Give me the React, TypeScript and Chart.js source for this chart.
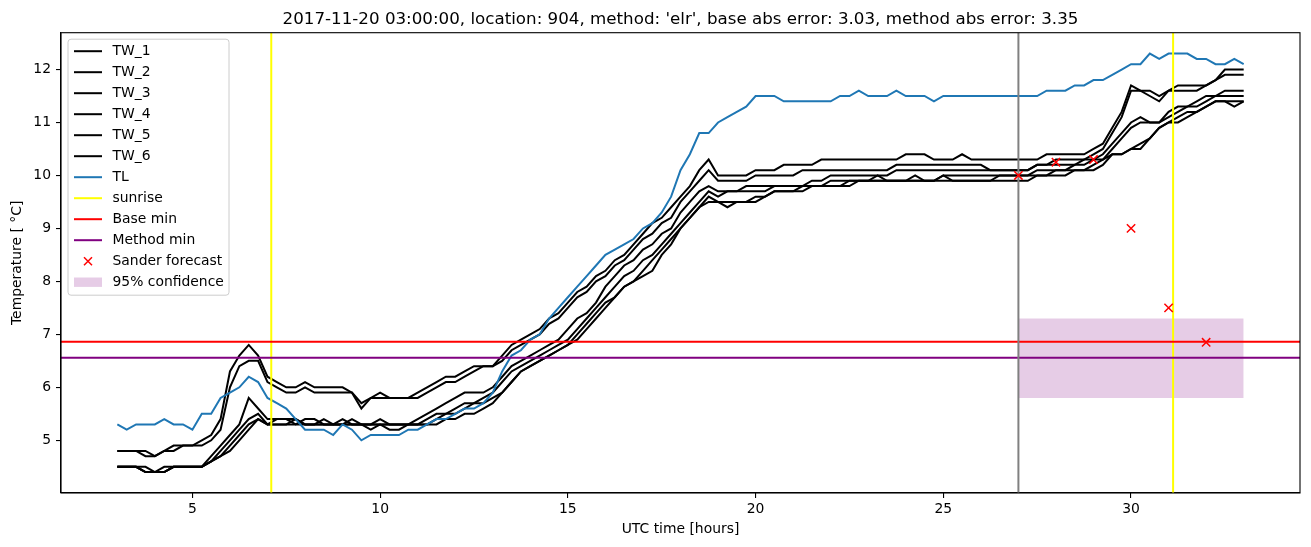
import { useEffect, useRef } from 'react';
import { Chart, registerables } from 'chart.js';

Chart.register(...registerables);

// ---- data (hours are a 15-minute grid from 03:00 to 33:00) ----
const HOURS = Array.from({ length: 121 }, (_, i) => 3 + i * 0.25);

const TW_1 = [
  4.8, 4.8, 4.8, 4.8,
  4.7, 4.8, 4.9, 4.9,
  4.9, 5.0, 5.1, 5.4,
  6.3, 6.6, 6.8, 6.6,
  6.2, 6.1, 6.0, 6.0,
  6.1, 6.0, 6.0, 6.0,
  6.0, 5.9, 5.6, 5.8,
  5.9, 5.8, 5.8, 5.8,
  5.9, 6.0, 6.1, 6.2,
  6.2, 6.3, 6.4, 6.4,
  6.4, 6.6, 6.8, 6.9,
  7.0, 7.1, 7.3, 7.4,
  7.6, 7.8, 7.9, 8.1,
  8.2, 8.4, 8.5, 8.7,
  8.9, 9.1, 9.2, 9.4,
  9.6, 9.8, 10.1, 10.3,
  10.0, 10.0, 10.0, 10.0,
  10.1, 10.1, 10.1, 10.2,
  10.2, 10.2, 10.2, 10.3,
  10.3, 10.3, 10.3, 10.3,
  10.3, 10.3, 10.3, 10.3,
  10.4, 10.4, 10.4, 10.3,
  10.3, 10.3, 10.4, 10.3,
  10.3, 10.3, 10.3, 10.3,
  10.3, 10.3, 10.3, 10.4,
  10.4, 10.4, 10.4, 10.4,
  10.5, 10.6, 10.9, 11.2,
  11.7, 11.6, 11.6, 11.5,
  11.6, 11.7, 11.7, 11.7,
  11.7, 11.8, 12.0, 12.0,
  12.0,
];

const TW_2 = [
  4.8, 4.8, 4.8, 4.7,
  4.7, 4.8, 4.8, 4.9,
  4.9, 4.9, 5.0, 5.2,
  6.0, 6.4, 6.5, 6.5,
  6.1, 6.0, 5.9, 5.9,
  6.0, 5.9, 5.9, 5.9,
  5.9, 5.9, 5.7, 5.8,
  5.8, 5.8, 5.8, 5.8,
  5.8, 5.9, 6.0, 6.1,
  6.1, 6.2, 6.3, 6.4,
  6.4, 6.5, 6.7, 6.8,
  6.9, 7.0, 7.2, 7.3,
  7.5, 7.7, 7.8, 8.0,
  8.1, 8.3, 8.4, 8.6,
  8.8, 8.9, 9.1, 9.2,
  9.5, 9.7, 9.9, 10.1,
  9.9, 9.9, 9.9, 9.9,
  10.0, 10.0, 10.0, 10.0,
  10.0, 10.1, 10.1, 10.1,
  10.1, 10.1, 10.1, 10.1,
  10.1, 10.1, 10.1, 10.2,
  10.2, 10.2, 10.2, 10.2,
  10.2, 10.2, 10.2, 10.2,
  10.2, 10.1, 10.1, 10.1,
  10.1, 10.1, 10.2, 10.2,
  10.3, 10.3, 10.3, 10.3,
  10.4, 10.5, 10.8, 11.1,
  11.6, 11.6, 11.5, 11.4,
  11.6, 11.6, 11.6, 11.6,
  11.7, 11.8, 11.9, 11.9,
  11.9,
];

const TW_3 = [
  4.5, 4.5, 4.5, 4.4,
  4.4, 4.5, 4.5, 4.5,
  4.5, 4.5, 4.7, 4.9,
  5.1, 5.3, 5.8, 5.6,
  5.4, 5.4, 5.4, 5.4,
  5.3, 5.3, 5.4, 5.3,
  5.4, 5.3, 5.3, 5.3,
  5.4, 5.3, 5.3, 5.3,
  5.4, 5.5, 5.6, 5.7,
  5.8, 5.9, 5.9, 5.9,
  6.0, 6.2, 6.4, 6.5,
  6.6, 6.7, 6.8, 6.9,
  7.1, 7.3, 7.4, 7.6,
  7.9, 8.1, 8.3, 8.4,
  8.6, 8.7, 8.9, 9.0,
  9.3, 9.5, 9.7, 9.8,
  9.7, 9.7, 9.7, 9.8,
  9.8, 9.8, 9.8, 9.8,
  9.8, 9.8, 9.9, 9.9,
  10.0, 10.0, 10.0, 10.0,
  10.0, 10.0, 10.0, 10.1,
  10.1, 10.1, 10.1, 10.1,
  10.1, 10.1, 10.1, 10.1,
  10.1, 10.1, 10.1, 10.1,
  10.1, 10.1, 10.2, 10.2,
  10.2, 10.2, 10.2, 10.3,
  10.3, 10.4, 10.6, 10.8,
  11.0, 11.1, 11.0, 11.0,
  11.2, 11.3, 11.3, 11.4,
  11.5, 11.5, 11.6, 11.6,
  11.6,
];

const TW_4 = [
  4.5, 4.5, 4.5, 4.4,
  4.4, 4.4, 4.5, 4.5,
  4.5, 4.5, 4.6, 4.8,
  5.0, 5.2, 5.4, 5.5,
  5.3, 5.4, 5.4, 5.3,
  5.4, 5.4, 5.3, 5.3,
  5.3, 5.4, 5.3, 5.2,
  5.3, 5.3, 5.3, 5.3,
  5.3, 5.4, 5.5, 5.5,
  5.6, 5.7, 5.7, 5.8,
  5.9, 6.1, 6.3, 6.4,
  6.5, 6.6, 6.7, 6.8,
  6.9, 7.1, 7.3, 7.5,
  7.7, 7.9, 8.1, 8.2,
  8.4, 8.5, 8.7, 8.9,
  9.1, 9.3, 9.5, 9.7,
  9.6, 9.7, 9.7, 9.7,
  9.7, 9.7, 9.8, 9.8,
  9.8, 9.8, 9.8, 9.8,
  9.9, 9.9, 9.9, 9.9,
  9.9, 9.9, 9.9, 9.9,
  9.9, 10.0, 9.9, 9.9,
  10.0, 10.0, 10.0, 10.0,
  10.0, 10.0, 10.0, 10.0,
  10.0, 10.0, 10.1, 10.1,
  10.1, 10.1, 10.2, 10.2,
  10.3, 10.3, 10.5, 10.7,
  10.9, 11.0, 11.0, 11.0,
  11.1, 11.2, 11.3, 11.3,
  11.4, 11.5, 11.5, 11.5,
  11.5,
];

const TW_5 = [
  4.5, 4.5, 4.5, 4.5,
  4.4, 4.4, 4.5, 4.5,
  4.5, 4.5, 4.6, 4.7,
  4.9, 5.1, 5.3, 5.4,
  5.3, 5.3, 5.3, 5.4,
  5.3, 5.3, 5.3, 5.3,
  5.3, 5.3, 5.3, 5.3,
  5.3, 5.2, 5.2, 5.3,
  5.3, 5.3, 5.4, 5.5,
  5.5, 5.6, 5.7, 5.7,
  5.8, 5.9, 6.1, 6.3,
  6.4, 6.5, 6.6, 6.7,
  6.8, 7.0, 7.2, 7.4,
  7.6, 7.7, 7.9, 8.0,
  8.2, 8.4, 8.6, 8.8,
  9.0, 9.2, 9.4, 9.6,
  9.5, 9.4, 9.5, 9.5,
  9.6, 9.6, 9.7, 9.7,
  9.7, 9.7, 9.8, 9.8,
  9.8, 9.8, 9.9, 9.9,
  9.9, 10.0, 9.9, 9.9,
  9.9, 9.9, 9.9, 9.9,
  10.0, 9.9, 9.9, 9.9,
  9.9, 9.9, 10.0, 10.0,
  10.0, 10.0, 10.0, 10.0,
  10.1, 10.1, 10.1, 10.1,
  10.2, 10.3, 10.4, 10.4,
  10.5, 10.6, 10.7, 10.9,
  11.0, 11.1, 11.2, 11.2,
  11.3, 11.4, 11.4, 11.3,
  11.4,
];

const TW_6 = [
  4.5, 4.5, 4.5, 4.4,
  4.4, 4.4, 4.5, 4.5,
  4.5, 4.5, 4.6, 4.7,
  4.8, 5.0, 5.2, 5.4,
  5.3, 5.3, 5.3, 5.3,
  5.3, 5.3, 5.3, 5.3,
  5.3, 5.3, 5.3, 5.3,
  5.3, 5.3, 5.3, 5.3,
  5.3, 5.3, 5.3, 5.4,
  5.4, 5.5, 5.5, 5.6,
  5.7, 5.9, 6.1, 6.3,
  6.4, 6.5, 6.6, 6.7,
  6.8, 6.9, 7.1, 7.3,
  7.5, 7.7, 7.9, 8.0,
  8.1, 8.2, 8.5, 8.7,
  9.0, 9.2, 9.4, 9.5,
  9.5, 9.5, 9.5, 9.5,
  9.5, 9.6, 9.7, 9.7,
  9.7, 9.8, 9.8, 9.8,
  9.8, 9.8, 9.8, 9.9,
  9.9, 9.9, 9.9, 9.9,
  9.9, 9.9, 9.9, 9.9,
  9.9, 9.9, 9.9, 9.9,
  9.9, 9.9, 9.9, 9.9,
  9.9, 9.9, 10.0, 10.0,
  10.0, 10.0, 10.1, 10.1,
  10.1, 10.2, 10.4, 10.4,
  10.5, 10.5, 10.7, 10.9,
  11.0, 11.0, 11.1, 11.2,
  11.3, 11.4, 11.4, 11.4,
  11.4,
];

const TL = [
  5.3, 5.2, 5.3, 5.3,
  5.3, 5.4, 5.3, 5.3,
  5.2, 5.5, 5.5, 5.8,
  5.9, 6.0, 6.2, 6.1,
  5.8, 5.7, 5.6, 5.4,
  5.2, 5.2, 5.2, 5.1,
  5.3, 5.2, 5.0, 5.1,
  5.1, 5.1, 5.1, 5.2,
  5.2, 5.3, 5.4, 5.4,
  5.5, 5.6, 5.6, 5.7,
  5.9, 6.3, 6.6, 6.7,
  6.9, 7.0, 7.3, 7.5,
  7.7, 7.9, 8.1, 8.3,
  8.5, 8.6, 8.7, 8.8,
  9.0, 9.1, 9.3, 9.6,
  10.1, 10.4, 10.8, 10.8,
  11.0, 11.1, 11.2, 11.3,
  11.5, 11.5, 11.5, 11.4,
  11.4, 11.4, 11.4, 11.4,
  11.4, 11.5, 11.5, 11.6,
  11.5, 11.5, 11.5, 11.6,
  11.5, 11.5, 11.5, 11.4,
  11.5, 11.5, 11.5, 11.5,
  11.5, 11.5, 11.5, 11.5,
  11.5, 11.5, 11.5, 11.6,
  11.6, 11.6, 11.7, 11.7,
  11.8, 11.8, 11.9, 12.0,
  12.1, 12.1, 12.3, 12.2,
  12.3, 12.3, 12.3, 12.2,
  12.2, 12.1, 12.1, 12.2,
  12.1,
];

const TW_LABELS = ['TW_1', 'TW_2', 'TW_3', 'TW_4', 'TW_5', 'TW_6'];
const TW_SERIES = [TW_1, TW_2, TW_3, TW_4, TW_5, TW_6];

const SUNRISE_HOURS = [7.1, 31.12];
const BASE_MIN = 6.86;
const METHOD_MIN = 6.56;
const FORECAST_START = 27;

const SANDER_HOURS = [27, 28, 29, 30, 31, 32];
const SANDER_VALUES = [10.0, 10.25, 10.3, 9.0, 7.5, 6.85];

const CONF_HOURS = [27, 33];
const CONF_LOW = 5.8;
const CONF_HIGH = 7.3;

const X_TICKS = [5, 10, 15, 20, 25, 30];
const Y_TICKS = [5, 6, 7, 8, 9, 10, 11, 12];
const X_MIN = 1.5;
const X_MAX = 34.5;
const Y_MIN = 4.005;
const Y_MAX = 12.695;

const TITLE =
  "2017-11-20 03:00:00, location: 904, method: 'elr', base abs error: 3.03, method abs error: 3.35";

const FONT = "'DejaVu Sans', sans-serif";

// ---- plugins ----
const titlePlugin = {
  id: 'mplTitle',
  afterDraw(chart: any) {
    const { ctx, chartArea } = chart;
    ctx.save();
    ctx.fillStyle = '#000';
    ctx.font = `16.7px ${FONT}`;
    ctx.textAlign = 'center';
    ctx.textBaseline = 'alphabetic';
    ctx.fillText(TITLE, (chartArea.left + chartArea.right) / 2, chartArea.top - 8.5);
    ctx.restore();
  },
};

const framePlugin = {
  id: 'mplFrame',
  afterDatasetsDraw(chart: any) {
    const { ctx, chartArea } = chart;
    ctx.save();
    ctx.strokeStyle = '#000';
    ctx.lineWidth = 1.1;
    ctx.strokeRect(chartArea.left, chartArea.top, chartArea.right - chartArea.left, chartArea.bottom - chartArea.top);
    ctx.restore();
  },
};

const legendPlugin = {
  id: 'mplLegend',
  afterDraw(chart: any) {
    const { ctx, chartArea } = chart;
    const entries = chart.data.datasets
      .filter((d: any) => d.legendRank !== undefined)
      .sort((a: any, b: any) => a.legendRank - b.legendRank);
    const x0 = chartArea.left + 7;
    const y0 = chartArea.top + 6.5;
    const rowH = 21;
    const w = 161;
    const h = 12 + (entries.length - 1) * rowH + 13;
    ctx.save();
    ctx.beginPath();
    const r = 3;
    ctx.moveTo(x0 + r, y0);
    ctx.lineTo(x0 + w - r, y0);
    ctx.quadraticCurveTo(x0 + w, y0, x0 + w, y0 + r);
    ctx.lineTo(x0 + w, y0 + h - r);
    ctx.quadraticCurveTo(x0 + w, y0 + h, x0 + w - r, y0 + h);
    ctx.lineTo(x0 + r, y0 + h);
    ctx.quadraticCurveTo(x0, y0 + h, x0, y0 + h - r);
    ctx.lineTo(x0, y0 + r);
    ctx.quadraticCurveTo(x0, y0, x0 + r, y0);
    ctx.closePath();
    ctx.fillStyle = 'rgba(255,255,255,0.8)';
    ctx.fill();
    ctx.strokeStyle = '#cccccc';
    ctx.lineWidth = 1;
    ctx.stroke();

    ctx.font = `13.9px ${FONT}`;
    ctx.textBaseline = 'middle';
    ctx.textAlign = 'left';
    entries.forEach((d: any, i: number) => {
      const cy = y0 + 12 + i * rowH;
      const hx0 = x0 + 6;
      const hx1 = x0 + 34;
      if (d.legendKind === 'line') {
        ctx.strokeStyle = d.borderColor;
        ctx.lineWidth = 2;
        ctx.beginPath();
        ctx.moveTo(hx0, cy);
        ctx.lineTo(hx1, cy);
        ctx.stroke();
      } else if (d.legendKind === 'marker') {
        const cx = (hx0 + hx1) / 2;
        const s = 4;
        ctx.strokeStyle = d.pointBorderColor;
        ctx.lineWidth = 1.5;
        ctx.beginPath();
        ctx.moveTo(cx - s, cy - s);
        ctx.lineTo(cx + s, cy + s);
        ctx.moveTo(cx - s, cy + s);
        ctx.lineTo(cx + s, cy - s);
        ctx.stroke();
      } else if (d.legendKind === 'patch') {
        ctx.fillStyle = d.backgroundColor;
        ctx.fillRect(hx0, cy - 4.7, hx1 - hx0, 9.4);
      }
      ctx.fillStyle = '#000';
      ctx.fillText(d.label, x0 + 44.5, cy);
    });
    ctx.restore();
  },
};

function buildDatasets() {
  const ds: any[] = [];
  const line = (data: { x: number; y: number }[], color: string, extra: any = {}) => ({
    data,
    borderColor: color,
    backgroundColor: color,
    borderWidth: 2,
    pointRadius: 0,
    tension: 0,
    fill: false,
    ...extra,
  });

  // Topmost first (Chart.js draws dataset 0 last)
  ds.push({
    label: 'Sander forecast',
    data: SANDER_HOURS.map((h, i) => ({ x: h, y: SANDER_VALUES[i] })),
    showLine: false,
    pointStyle: 'crossRot',
    pointRadius: 5.9,
    pointBorderWidth: 1.5,
    pointBorderColor: '#ff0000',
    pointBackgroundColor: '#ff0000',
    borderColor: '#ff0000',
    legendRank: 10,
    legendKind: 'marker',
  });
  ds.push(line([{ x: FORECAST_START, y: Y_MIN }, { x: FORECAST_START, y: Y_MAX }], '#808080'));
  ds.push(line([{ x: X_MIN, y: METHOD_MIN }, { x: X_MAX, y: METHOD_MIN }], '#800080', { label: 'Method min', legendRank: 9, legendKind: 'line' }));
  ds.push(line([{ x: X_MIN, y: BASE_MIN }, { x: X_MAX, y: BASE_MIN }], '#ff0000', { label: 'Base min', legendRank: 8, legendKind: 'line' }));
  SUNRISE_HOURS.forEach((h, i) => {
    ds.push(line([{ x: h, y: Y_MIN }, { x: h, y: Y_MAX }], '#ffff00', i === 0 ? { label: 'sunrise', legendRank: 7, legendKind: 'line' } : {}));
  });
  ds.push(line(HOURS.map((h, i) => ({ x: h, y: TL[i] })), '#1f77b4', { label: 'TL', legendRank: 6, legendKind: 'line' }));
  for (let k = TW_SERIES.length - 1; k >= 0; k--) {
    const vals = TW_SERIES[k];
    ds.push(line(HOURS.map((h, i) => ({ x: h, y: vals[i] })), '#000000', { label: TW_LABELS[k], legendRank: k, legendKind: 'line' }));
  }
  ds.push({
    label: '95% confidence',
    data: CONF_HOURS.map((h) => ({ x: h, y: CONF_HIGH })),
    borderColor: 'rgba(0,0,0,0)',
    borderWidth: 0,
    pointRadius: 0,
    backgroundColor: 'rgba(128,0,128,0.2)',
    fill: { value: CONF_LOW },
    legendRank: 11,
    legendKind: 'patch',
  });
  return ds;
}

export default function App() {
  const ref = useRef<HTMLCanvasElement | null>(null);

  useEffect(() => {
    document.body.style.margin = '0';
    const canvas = ref.current;
    if (!canvas) return;
    Chart.defaults.font.family = FONT;
    Chart.defaults.color = '#000';

    const chart = new Chart(canvas, {
      type: 'line',
      data: { datasets: buildDatasets() },
      options: {
        responsive: false,
        animation: false,
        events: [],
        layout: { padding: { left: 0, right: 11, top: 32.7, bottom: 0 } },
        plugins: {
          legend: { display: false },
          title: { display: false },
          tooltip: { enabled: false },
        },
        scales: {
          x: {
            type: 'linear',
            min: X_MIN,
            max: X_MAX,
            afterBuildTicks: (s: any) => {
              s.ticks = X_TICKS.map((v) => ({ value: v }));
            },
            afterFit: (s: any) => {
              s.height = 54;
            },
            grid: { display: true, drawOnChartArea: false, drawTicks: true, tickLength: 5, color: '#000', lineWidth: 1.1 },
            border: { display: true, color: '#000', width: 1.1 },
            ticks: { color: '#000', font: { size: 13.9 }, padding: 3, maxRotation: 0, autoSkip: false },
            title: { display: true, text: 'UTC time [hours]', color: '#000', font: { size: 13.9 }, padding: { top: 0, bottom: 9.5 } },
          },
          y: {
            type: 'linear',
            min: Y_MIN,
            max: Y_MAX,
            afterBuildTicks: (s: any) => {
              s.ticks = Y_TICKS.map((v) => ({ value: v }));
            },
            afterFit: (s: any) => {
              s.width = 61;
            },
            grid: { display: true, drawOnChartArea: false, drawTicks: true, tickLength: 5, color: '#000', lineWidth: 1.1 },
            border: { display: true, color: '#000', width: 1.1 },
            ticks: { color: '#000', font: { size: 13.9 }, padding: 5, autoSkip: false },
            title: { display: true, text: 'Temperature [ °C]', color: '#000', font: { size: 13.9 }, padding: { top: 9.5, bottom: 0 } },
          },
        },
      },
      plugins: [titlePlugin, framePlugin, legendPlugin],
    } as any);

    return () => chart.destroy();
  }, []);

  return (
    <div style={{ position: 'absolute', left: 0, top: 0 }}>
      <canvas ref={ref} width={1311} height={547} style={{ display: 'block', width: 1311, height: 547 }} />
    </div>
  );
}
